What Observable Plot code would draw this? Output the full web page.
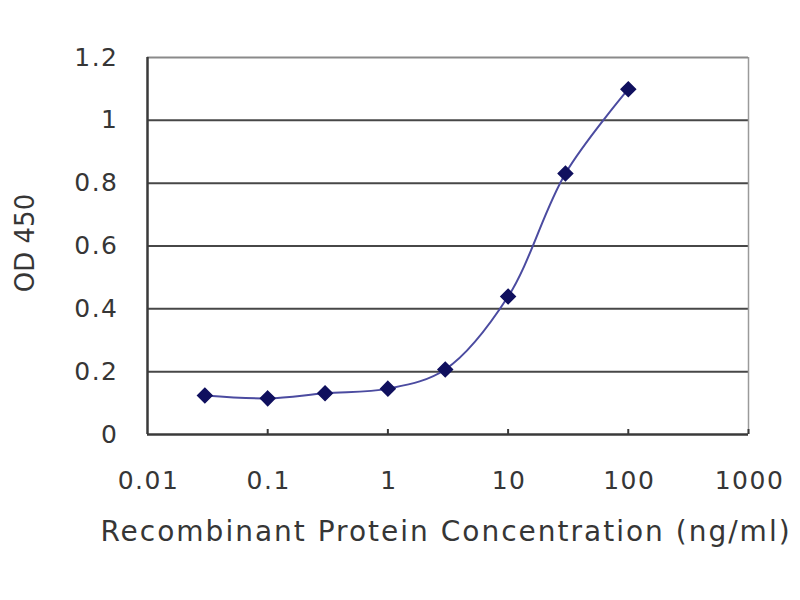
<!DOCTYPE html>
<html><head><meta charset="utf-8">
<script src="https://cdn.jsdelivr.net/npm/d3@7"></script>
<script src="https://cdn.jsdelivr.net/npm/@observablehq/plot@0.6"></script>
<style>
html,body{margin:0;padding:0;background:#fff;}
#chart{width:800px;height:600px;}
</style>
</head><body><div id="chart"></div>
<script>
const concentrations = [0.03, 0.1, 0.3, 1, 3, 10, 30, 100];
const od450 = [0.124, 0.115, 0.131, 0.146, 0.207, 0.439, 0.831, 1.099];
const xTicks = [0.01, 0.1, 1, 10, 100, 1000];
const xTickLabels = ["0.01", "0.1", "1", "10", "100", "1000"];
const yTicks = [0, 0.2, 0.4, 0.6, 0.8, 1, 1.2];
const yTickLabels = ["0", "0.2", "0.4", "0.6", "0.8", "1", "1.2"];

const data = concentrations.map((c, i) => ({x: c, y: od450[i]}));
const gridY = yTicks.filter(v => v > 0 && v < 1.2);
const FONT = "DejaVu Sans, Liberation Sans, Arial, sans-serif";

const chart = Plot.plot({
  width: 800,
  height: 600,
  marginLeft: 147,
  marginRight: 52,
  marginTop: 57,
  marginBottom: 166,
  style: {fontFamily: FONT, background: "#fff", color: "#333"},
  x: {type: "log", domain: [0.01, 1000], axis: null},
  y: {type: "linear", domain: [0, 1.2], axis: null},
  marks: [
    Plot.ruleY(gridY, {y: d => d, stroke: "#474747", strokeWidth: 2}),
    Plot.ruleX([1000], {x: d => d, stroke: "#9a9a9a", strokeWidth: 1.5}),
    Plot.ruleY([1.2], {y: d => d, stroke: "#8a8a8a", strokeWidth: 2}),
    Plot.ruleX([0.01], {x: d => d, stroke: "#3a3a3a", strokeWidth: 2.5}),
    Plot.ruleY([0], {y: d => d, stroke: "#3a3a3a", strokeWidth: 2.5}),
    Plot.ruleX(xTicks.slice(1), {x: d => d, y1: 0, y2: 0.016, stroke: "#3a3a3a", strokeWidth: 2}),
    Plot.text(xTicks, {x: d => d, y: 0, text: (d, i) => xTickLabels[i], dy: 46, dx: 1, fontSize: 25, fill: "#363636", textAnchor: "middle"}),
    Plot.text(yTicks, {x: 0.01, y: d => d, text: (d, i) => yTickLabels[i], dx: -29, fontSize: 25, fill: "#363636", textAnchor: "end"}),
    Plot.line(data, {x: "x", y: "y", curve: "catmull-rom", stroke: "#4b4ba0", strokeWidth: 2}),
    Plot.dot(data, {x: "x", y: "y", symbol: "diamond2", r: 6.5, fill: "#10105e", stroke: "#10105e"})
  ]
});

const svg = d3.select(chart);
svg.selectAll("text").filter(function(){ return !this.closest("defs"); })
  .style("letter-spacing", "1.5px");
svg.append("text")
  .attr("x", 446).attr("y", 541)
  .attr("text-anchor", "middle")
  .attr("font-size", 28)
  .attr("font-family", FONT)
  .attr("fill", "#363636")
  .style("letter-spacing", "2px")
  .text("Recombinant Protein Concentration (ng/ml)");
svg.append("text")
  .attr("transform", "translate(34,243) rotate(-90)")
  .attr("text-anchor", "middle")
  .attr("font-size", 26)
  .attr("font-family", FONT)
  .attr("fill", "#363636")
  .text("OD 450");

document.getElementById("chart").appendChild(chart);
</script>
</body></html>
